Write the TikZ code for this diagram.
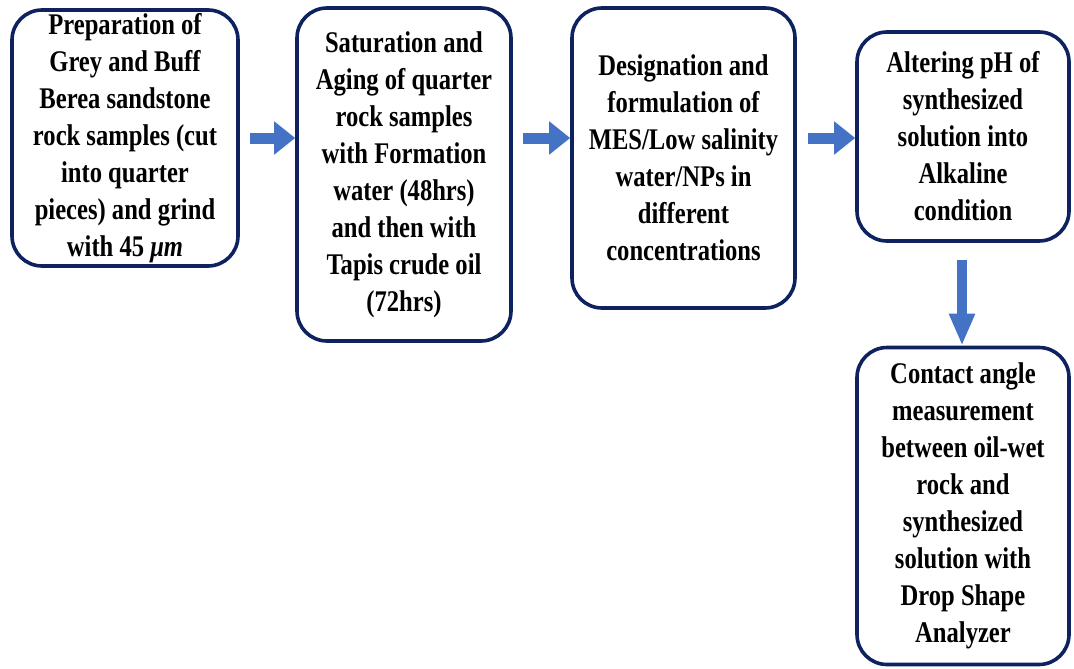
\documentclass[tikz,border=0pt]{standalone}
\usepackage{fontspec}
\setmainfont[FakeStretch=0.82]{Liberation Serif}
\usetikzlibrary{arrows.meta}
\definecolor{boxline}{HTML}{0E2260}
\definecolor{flowblue}{HTML}{4472C4}
\tikzset{
	stepbox/.style={draw=boxline, line width=3.6pt, rounded corners=30pt, fill=white,
		inner sep=0pt, align=center, font=\bfseries\fontsize{30}{37}\selectfont},
	flow/.style={draw=flowblue, line width=11pt, -{Triangle[length=21pt,width=32pt]}},
	flowdown/.style={draw=flowblue, line width=10pt, -{Triangle[length=32pt,width=24pt]}}
}
\begin{document}
\begin{tikzpicture}[x=1pt,y=-1pt]
	\useasboundingbox (0,0) rectangle (1074,669);
	% process boxes
	\node[stepbox, minimum width=226pt, minimum height=256pt] (prep) at (125,138)
		{Preparation of\\Grey and Buff\\Berea sandstone\\rock samples (cut\\into quarter\\pieces) and grind\\with 45 \textit{μm}};
	\node[stepbox, minimum width=214pt, minimum height=333pt] (satur) at (404,174.5)
		{Saturation and\\Aging of quarter\\rock samples\\with Formation\\water (48hrs)\\and then with\\Tapis crude oil\\(72hrs)};
	\node[stepbox, minimum width=223pt, minimum height=300pt] (design) at (683.5,158)
		{Designation and\\formulation of\\MES/Low salinity\\water/NPs in\\different\\concentrations};
	\node[stepbox, minimum width=212pt, minimum height=209pt] (alter) at (963,136.5)
		{Altering pH of\\synthesized\\solution into\\Alkaline\\condition};
	\node[stepbox, minimum width=212pt, minimum height=317pt] (contact) at (963,506)
		{Contact angle\\measurement\\between oil-wet\\rock and\\synthesized\\solution with\\Drop Shape\\Analyzer};
	% arrows
	\coordinate (a1) at (250,138);
	\coordinate (a2) at (523,138);
	\coordinate (a3) at (808,138);
	\coordinate (a4) at (962,260);
	\draw[flow] (a1) -- (a1 -| satur.west);
	\draw[flow] (a2) -- (a2 -| design.west);
	\draw[flow] (a3) -- (a3 -| alter.west);
	\draw[flowdown] (a4) -- (a4 |- contact.north);
\end{tikzpicture}
\end{document}
